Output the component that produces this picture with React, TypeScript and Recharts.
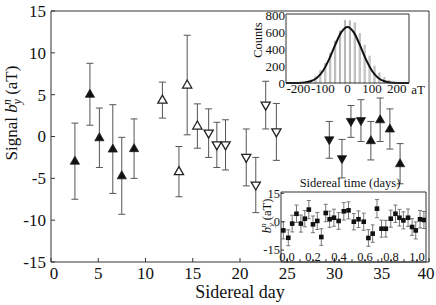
import React from "react";
import { ComposedChart, Scatter, ErrorBar, XAxis, YAxis, Bar, Line } from "recharts";

const FONT = "Liberation Serif, DejaVu Serif, serif";
const AXIS = "#333";

// ---- main panel: signal per sidereal day ----
const xTicks = [0, 5, 10, 15, 20, 25, 30, 35, 40];
const yTicks = [-15, -10, -5, 0, 5, 10, 15];

// filled up triangles (first run)
const daysA = [2.53, 4.12, 5.12, 6.54, 7.49, 8.79];
const sigA = [-2.95, 5.05, -0.15, -1.5, -4.7, -1.45];
const errA = [4.55, 3.7, 3.55, 5.3, 4.6, 3.55];

// open up triangles
const daysB = [11.79, 13.54, 14.41, 15.49];
const sigB = [4.35, -4.2, 6.15, 1.25];
const errB = [2.15, 3.0, 5.95, 2.65];

// open down triangles
const daysC = [16.68, 17.55, 18.47, 20.66, 21.67, 22.72, 23.85];
const sigC = [0.4, -1.0, -1.0, -2.5, -5.8, 3.75, 0.55];
const errC = [2.9, 2.7, 3.0, 3.4, 3.3, 2.85, 3.4];

// filled down triangles
const daysD = [29.45, 30.79, 31.74, 32.8];
const sigD = [-0.4, -2.65, 1.8, 1.9];
const errD = [2.2, 2.3, 1.9, 2.5];

// filled up triangles (last run)
const daysE = [33.85, 34.83, 35.86, 36.94];
const sigE = [-0.5, 2.0, 0.9, -3.25];
const errE = [2.3, 2.6, 2.4, 2.4];

// ---- histogram inset ----
const binCenters = [-190, -170, -150, -130, -110, -90, -70, -50, -30, -10, 10, 30, 50, 70, 90, 110, 130, 150, 170, 190];
const binCounts = [5, 12, 35, 75, 150, 235, 355, 500, 620, 745, 740, 715, 590, 450, 320, 200, 120, 65, 30, 12];
const fitX = [-250, -225, -200, -175, -150, -125, -100, -75, -50, -25, 0, 25, 50, 75, 100, 125, 150, 175, 200, 225, 250];
const fitY = [0, 0, 1, 6, 21, 60, 143, 280, 453, 604, 665, 604, 453, 280, 143, 60, 21, 6, 1, 0, 0];

// ---- sidereal time inset ----
const timeDays = [-0.028, 0.01, 0.04, 0.073, 0.107, 0.137, 0.168, 0.2, 0.233, 0.264, 0.298, 0.328, 0.361, 0.397, 0.437, 0.473, 0.514, 0.55, 0.59, 0.626, 0.659, 0.692, 0.727, 0.76, 0.798, 0.834, 0.865, 0.895, 0.931, 0.962, 0.99, 1.023, 1.053];
const timeSig = [-4.6, -8.5, -1.0, 4.2, -1.0, 1.6, 6.4, -1.4, 0.4, -8.1, 4.6, 1.3, 2.1, 0.4, 5.5, 6.0, 0, 1.3, 0, -8.6, -6.3, 6.9, -3.7, -3.7, 1.6, 4.2, 2.1, 0.7, 2.1, -2.8, -4.6, 1.3, 0.9];
const timeErr = [4.5, 4.2, 4.4, 4.6, 4.5, 4.3, 4.8, 4.4, 4.5, 4.4, 4.6, 4.3, 4.5, 4.4, 4.6, 4.5, 4.3, 4.4, 4.5, 4.4, 4.6, 4.8, 4.5, 4.4, 4.5, 4.6, 4.4, 4.5, 4.6, 4.4, 4.5, 4.6, 4.5];
const timeTicks = [0, 0.1, 0.2, 0.3, 0.4, 0.5, 0.6, 0.7, 0.8, 0.9, 1.0];
const timeYTicks = [-15, 0, 15];

const pts = (d: number[], s: number[], e: number[]) => d.map((x, i) => ({ day: x, sig: s[i], err: e[i] }));
const bins = binCenters.map((x, i) => ({ aT: x, count: binCounts[i] }));
const fit = fitX.map((x, i) => ({ aT: x, fit: fitY[i] }));
const timeData = timeDays.map((t, i) => ({ t, sig: timeSig[i], err: timeErr[i] }));

// triangle markers
const tri = (up: boolean, filled: boolean) => (props: any) => {
  const { cx, cy } = props;
  if (cx == null || cy == null || isNaN(cx) || isNaN(cy)) return null;
  const w = 4.6;
  const d = up
    ? `M${cx},${cy - 5} L${cx + w},${cy + 3} L${cx - w},${cy + 3} Z`
    : `M${cx},${cy + 5} L${cx + w},${cy - 3} L${cx - w},${cy - 3} Z`;
  return <path d={d} fill={filled ? "#111" : "#fff"} stroke="#222" strokeWidth={filled ? 0.8 : 1.3} />;
};

const square = (props: any) => {
  const { cx, cy } = props;
  if (cx == null || cy == null || isNaN(cx)) return null;
  return <rect x={cx - 2.3} y={cy - 2.3} width={4.6} height={4.6} fill="#111" />;
};

const txt = (size: number) => ({ fontFamily: FONT, fontSize: size, fill: "#111" });

// bottom-axis tick label; nudge moves the end labels inward like the original
const bottomTick = (size: number, fmt: (v: number) => string, nudge?: (v: number) => number) => (props: any) => {
  const { x, y, payload } = props;
  const v = payload.value;
  return (
    <text x={x + (nudge ? nudge(v) : 0)} y={y} dy={size * 0.72} textAnchor="middle" style={txt(size)}>
      {fmt(v)}
    </text>
  );
};

const leftTick = (size: number) => (props: any) => {
  const { x, y, payload } = props;
  return (
    <text x={x} y={y} dy={size * 0.35} textAnchor="end" style={txt(size)}>
      {payload.value}
    </text>
  );
};

// b_y^n with stacked sub/superscript, rotated
const BLabel = ({ x, y, size, prefix }: { x: number; y: number; size: number; prefix: string }) => {
  const small = size * 0.68;
  return (
    <text x={x} y={y} transform={`rotate(-90 ${x} ${y})`} textAnchor="middle" style={txt(size)}>
      {prefix}
      <tspan fontStyle="italic">b</tspan>
      <tspan fontStyle="italic" fontSize={small} dy={size * 0.22}>y</tspan>
      <tspan fontStyle="italic" fontSize={small} dx={-small * 0.5} dy={-size * 0.6}>n</tspan>
      <tspan dy={size * 0.38}> (aT)</tspan>
    </text>
  );
};

function MainChart() {
  return (
    <ComposedChart width={436} height={305} margin={{ top: 10, right: 6, bottom: 0, left: 0 }}>
      <XAxis
        dataKey="day"
        type="number"
        domain={[0, 40]}
        ticks={xTicks}
        interval={0}
        height={43}
        tickSize={-4}
        tickMargin={9}
        stroke={AXIS}
        tick={bottomTick(17, (v) => String(v), (v) => (v === 0 ? 3 : v === 40 ? -3 : 0))}
        label={{ content: () => <text x={240} y={298} textAnchor="middle" style={txt(18)}>Sidereal day</text> }}
      />
      <YAxis
        dataKey="sig"
        type="number"
        domain={[-15, 15]}
        ticks={yTicks}
        interval={0}
        width={51}
        tickSize={-4}
        tickMargin={9}
        stroke={AXIS}
        tick={leftTick(17)}
        label={{ content: () => <BLabel x={17} y={113} size={17} prefix="Signal " /> }}
      />
      <XAxis xAxisId="top" orientation="top" type="number" domain={[0, 40]} ticks={xTicks} interval={0} height={1} tickSize={-4} tick={false} stroke={AXIS} />
      <YAxis yAxisId="right" orientation="right" type="number" domain={[-15, 15]} ticks={yTicks} interval={0} width={1} tickSize={-4} tick={false} stroke={AXIS} />
      {[
        { d: pts(daysA, sigA, errA), s: tri(true, true) },
        { d: pts(daysB, sigB, errB), s: tri(true, false) },
        { d: pts(daysC, sigC, errC), s: tri(false, false) },
        { d: pts(daysD, sigD, errD), s: tri(false, true) },
        { d: pts(daysE, sigE, errE), s: tri(true, true) },
      ].map((g, i) => (
        <Scatter key={i} data={g.d} dataKey="sig" shape={g.s} isAnimationActive={false}>
          <ErrorBar dataKey="err" direction="y" width={3.5} stroke="#555" strokeWidth={1} />
        </Scatter>
      ))}
    </ComposedChart>
  );
}

function HistInset() {
  return (
    <ComposedChart width={196} height={100} data={bins} margin={{ top: 13, right: 26, bottom: 0, left: 0 }}>
      <XAxis
        dataKey="aT"
        type="number"
        domain={[-250, 250]}
        ticks={[-200, -100, 0, 100, 200]}
        interval={0}
        height={17}
        tickSize={0}
        tickMargin={1}
        stroke={AXIS}
        tick={bottomTick(13, (v) => String(v))}
        label={{ content: () => <text x={178} y={94} textAnchor="middle" style={txt(13)}>aT</text> }}
      />
      <YAxis
        type="number"
        domain={[0, 820]}
        ticks={[0, 200, 400, 600, 800]}
        interval={0}
        width={46}
        tickSize={0}
        tickMargin={1}
        stroke={AXIS}
        tick={leftTick(13)}
        label={{ content: () => <text x={22} y={40} transform="rotate(-90 22 40)" textAnchor="middle" style={txt(12.5)}>Counts</text> }}
      />
      <XAxis xAxisId="top" orientation="top" type="number" domain={[-250, 250]} height={1} tick={false} tickLine={false} stroke={AXIS} />
      <YAxis yAxisId="right" orientation="right" type="number" domain={[0, 820]} width={1} tick={false} tickLine={false} stroke={AXIS} />
      <Bar dataKey="count" fill="#fff" stroke="#aaa" strokeWidth={0.9} barSize={5} isAnimationActive={false} />
      <Line data={fit} dataKey="fit" type="monotone" stroke="#111" strokeWidth={2} dot={false} isAnimationActive={false} />
    </ComposedChart>
  );
}

function TimeInset() {
  return (
    <ComposedChart width={196} height={95} margin={{ top: 20, right: 9, bottom: 3, left: 0 }}>
      <XAxis
        dataKey="t"
        type="number"
        domain={[-0.046, 1.069]}
        allowDataOverflow
        ticks={timeTicks}
        interval={0}
        height={1}
        tickSize={-3}
        tickMargin={-7}
        stroke={AXIS}
        tick={bottomTick(12.5, (v) => (Math.round(v * 10) % 2 === 0 ? v.toFixed(1) : ""))}
      />
      <YAxis
        dataKey="sig"
        type="number"
        domain={[-21.3, 15.7]}
        ticks={timeYTicks}
        interval={0}
        width={41}
        tickSize={-3}
        tickMargin={4}
        stroke={AXIS}
        tick={leftTick(12.5)}
        label={{ content: () => <BLabel x={31} y={45} size={12.5} prefix="" /> }}
      />
      <XAxis
        xAxisId="top"
        orientation="top"
        type="number"
        domain={[-0.046, 1.069]}
        height={1}
        tick={false}
        tickLine={false}
        stroke={AXIS}
        label={{ content: () => <text x={110} y={16} textAnchor="middle" style={txt(12.5)}>Sidereal time (days)</text> }}
      />
      <YAxis yAxisId="right" orientation="right" type="number" domain={[-21.3, 15.7]} width={1} tick={false} tickLine={false} stroke={AXIS} />
      <Scatter data={timeData} dataKey="sig" shape={square} isAnimationActive={false}>
        <ErrorBar dataKey="err" direction="y" width={2} stroke="#777" strokeWidth={1} />
      </Scatter>
    </ComposedChart>
  );
}

export default function App() {
  return (
    <div style={{ position: "absolute", left: 0, top: 0, width: 436, height: 305, background: "#fff" }}>
      <MainChart />
      <div style={{ position: "absolute", left: 240, top: 0 }}>
        <HistInset />
      </div>
      <div style={{ position: "absolute", left: 240, top: 171 }}>
        <TimeInset />
      </div>
    </div>
  );
}
